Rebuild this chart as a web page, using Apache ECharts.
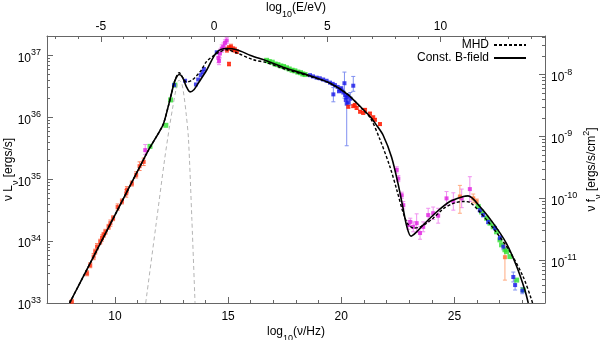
<!DOCTYPE html>
<html>
<head>
<meta charset="utf-8">
<script src="https://cdn.jsdelivr.net/npm/echarts@6/dist/echarts.min.js"></script>
<style>
html, body { margin: 0; padding: 0; background: #fff; }
#chart { width: 600px; height: 340px; }
</style>
</head>
<body>
<div id="chart"></div>
<script>
// all values are log10: x = log10(nu/Hz), y = log10(nu L_nu / erg s^-1)
const constBField = [
  [8.0,33.0],[9.0,33.71],[10.0,34.42],[11.0,35.13],[11.5,35.48],[11.92,35.74],[12.14,35.89],
  [12.36,36.18],[12.51,36.40],[12.65,36.59],[12.84,36.69],[12.98,36.65],[13.15,36.50],[13.32,36.41],
  [13.5,36.45],[13.68,36.55],[14.05,36.76],[14.5,37.05],[14.94,37.11],[15.38,37.09],[16.0,37.0],
  [16.72,36.91],[17.5,36.8],[18.62,36.67],[19.5,36.55],[20.25,36.38],[20.96,36.13],[21.3,36.0],
  [21.58,35.86],[21.85,35.71],[22.22,35.36],[22.5,34.94],[22.72,34.55],[22.9,34.23],[23.08,34.08],
  [23.33,34.15],[23.62,34.26],[24.21,34.47],[24.8,34.64],[25.39,34.72],[25.6,34.73],[26.12,34.56],
  [26.71,34.29],[27.30,33.96],[27.75,33.59],[28.11,33.21],[28.26,33.0]
];
const mhdModel = [
  [8.0,33.0],[9.0,33.71],[10.0,34.42],[11.0,35.13],[11.5,35.48],[11.92,35.74],[12.14,35.89],
  [12.36,36.18],[12.51,36.40],[12.65,36.6],[12.84,36.72],[13.0,36.64],[13.17,36.57],[13.4,36.6],
  [13.61,36.67],[13.83,36.77],[14.05,36.9],[14.5,37.03],[14.94,37.09],[15.38,37.04],[16.11,36.93],
  [16.72,36.88],[17.5,36.78],[18.62,36.66],[19.5,36.55],[20.25,36.38],[20.96,36.12],[21.3,35.98],
  [21.71,35.64],[22.15,35.2],[22.45,34.83],[22.74,34.45],[22.95,34.27],[23.2,34.21],[23.5,34.23],
  [24.06,34.37],[24.5,34.52],[24.95,34.61],[25.39,34.64],[25.7,34.62],[26.12,34.47],[26.71,34.21],
  [27.45,33.83],[28.04,33.42],[28.41,33.05],[28.45,33.0]
];
const dustBump = [
  [11.36,33.0],[11.8,34.22],[12.2,35.33],[12.4,35.82],[12.55,36.15],[12.7,36.45],[12.83,36.6],
  [12.95,36.55],[13.05,36.35],[13.15,36.05],[13.25,35.65],[13.4,34.35],[13.54,33.0]
];

// measurements: [x, y, error down, error up] (dex)
const radioRed = [
  [8.10,33.02,0.04,0.04],[8.77,33.48,0.04,0.04],[8.91,33.61,0.04,0.04],[9.06,33.75,0.05,0.05],
  [9.13,33.83,0.04,0.04],[9.21,33.91,0.05,0.05],[9.35,33.99,0.04,0.04],[9.43,34.05,0.05,0.05],
  [9.50,34.10,0.04,0.04],[9.58,34.15,0.04,0.04],[9.72,34.23,0.04,0.04],[9.80,34.29,0.05,0.05],
  [9.92,34.37,0.04,0.04],[10.12,34.55,0.05,0.05],[10.31,34.64,0.04,0.04],[10.50,34.77,0.06,0.06],
  [10.53,34.83,0.05,0.05],[10.75,34.93,0.04,0.04],[10.94,35.07,0.05,0.05],[11.09,35.21,0.07,0.07],
  [11.27,35.28,0.06,0.06]
];
const irMagenta = [[11.34,35.47,0.07,0.09]];
const irGreen = [[11.55,35.53,0,0],[12.25,35.87,0,0],[12.46,36.28,0,0],[12.65,36.52,0,0]];
const optBlue = [
  [12.61,36.52,0,0],[13.10,36.59,0,0],[13.58,36.53,0,0],[13.68,36.61,0,0],[13.79,36.68,0,0],
  [13.88,36.73,0,0],[13.93,36.78,0,0],[14.50,37.05,0,0]
];
const optMagenta = [
  [14.57,36.96,0.08,0.08],[14.60,36.91,0.06,0.06],[14.64,37.03,0.07,0.07],[14.72,37.11,0.06,0.06],
  [14.79,37.14,0.06,0.06],[14.86,37.20,0.05,0.05],[14.94,37.24,0.05,0.05]
];
const uvRed = [
  [14.95,37.09,0.04,0.04],[15.04,37.12,0.04,0.04],[15.13,37.14,0.04,0.04],[15.22,37.10,0.04,0.04],
  [15.30,37.09,0.04,0.04],[15.39,37.06,0.03,0.03],[15.04,36.86,0.03,0.03]
];
const xrayGreen = [
  [16.70,36.92,0,0],[16.82,36.90,0,0],[16.95,36.89,0,0],[17.08,36.86,0,0],[17.20,36.85,0,0],
  [17.33,36.83,0,0],[17.45,36.82,0,0],[17.58,36.80,0,0],[17.70,36.78,0,0],[17.83,36.76,0,0],
  [17.95,36.75,0,0],[18.08,36.73,0,0],[18.20,36.72,0,0],[18.30,36.70,0,0],[18.40,36.69,0,0]
];
const xrayBlue = [
  [18.62,36.68,0,0],[18.75,36.66,0,0],[18.91,36.64,0,0],[19.05,36.63,0,0],[19.20,36.61,0,0],
  [19.35,36.59,0,0],[19.50,36.56,0,0],[19.62,36.54,0,0],[19.72,36.52,0,0],[19.84,36.49,0,0],
  [19.90,36.42,0,0],[19.94,36.45,0,0],[20.00,36.47,0,0],[20.02,36.43,0,0],[20.09,36.40,0,0],
  [20.17,36.36,0,0],[20.20,36.28,0,0],[20.24,36.32,0,0],[20.28,36.35,0,0],[20.31,36.24,0,0],
  [20.14,36.55,0.24,0.18],[20.53,36.51,0.09,0.15],[20.24,36.22,0.68,0.12],[19.65,36.37,0.12,0.11],
  [20.40,36.30,0.10,0.10]
];
const hardRed = [
  [20.31,36.17,0.02,0.02],[20.53,36.18,0.02,0.02],[20.60,36.20,0.02,0.02],[20.68,36.15,0.02,0.02],
  [20.83,36.09,0.02,0.02],[20.97,36.07,0.02,0.02],[21.05,36.12,0.02,0.02],[21.27,36.06,0.02,0.02],
  [21.41,36.00,0.02,0.02],[21.49,35.96,0.02,0.02],[21.71,35.89,0.02,0.02]
];
const mevMagenta = [
  [22.45,35.15,0.05,0.05],[22.52,35.01,0.05,0.05],[22.67,34.74,0.05,0.05],[22.74,34.58,0.06,0.06],
  [22.96,34.26,0.07,0.07],[23.05,34.31,0.06,0.06],[23.18,34.23,0.08,0.08],[23.33,34.29,0.15,0.15],
  [23.48,34.13,0.10,0.10],[23.62,34.23,0.08,0.08],[23.84,34.42,0.11,0.11],[24.06,34.45,0.10,0.10],
  [24.28,34.41,0.12,0.12],[24.65,34.69,0.11,0.11],[24.95,34.64,0.14,0.14],[25.32,34.69,0.15,0.15],
  [25.68,34.84,0.20,0.20]
];
const gammaOrange = [[25.24,34.72,0.27,0.18],[25.83,34.69,0.07,0.07],[25.98,34.64,0.04,0.04],[27.23,33.74,0.37,0.23]];
const gammaGreen = [
  [26.05,34.56,0,0],[26.20,34.47,0,0],[26.42,34.37,0,0],[26.57,34.29,0,0],[26.71,34.23,0,0],
  [26.86,34.15,0,0],[27.01,34.02,0,0],[27.08,33.94,0,0],[27.23,33.86,0,0],[27.30,33.83,0,0],
  [27.45,33.75,0,0],[27.75,33.37,0,0],[28.04,33.21,0,0]
];
const gammaBlue = [
  [26.12,34.50,0.03,0.03],[26.27,34.42,0.03,0.03],[26.49,34.31,0.03,0.03],[26.79,34.21,0.03,0.03],
  [27.01,34.05,0.04,0.04],[27.16,33.91,0.05,0.05],[27.60,33.42,0.08,0.08],[27.68,33.29,0.08,0.08],
  [28.00,33.20,0.05,0.05]
];

// tick labels
const bottomTicks = [10, 15, 20, 25];
const topTicks = [-5, 0, 5, 10];
const leftTicks = [33, 34, 35, 36, 37];
const rightTicks = [-11, -10, -9, -8];

const EV_OFFSET = 14.38;    // log10(nu/Hz) - log10(E/eV)
const FLUX_OFFSET = 44.69;  // log10(4 pi d^2)
const xMin = 7, xMax = 29, yMin = 33, yMax = 37.313;

function range(a, b) { let r = []; for (let i = a; i <= b; i++) r.push(i); return r; }
function logMinor(lo, hi) {
    let r = [];
    for (let n = Math.floor(lo) - 1; n <= Math.ceil(hi); n++) {
        for (let k = 2; k <= 9; k++) {
            let v = n + Math.log10(k);
            if (v > lo && v < hi) r.push(v);
        }
    }
    return r;
}
function pow10(v) { return '{a|10}{sup|' + v + '}'; }

const rich = {
    a: { fontSize: 12, lineHeight: 14, padding: [4, 0, 0, 0], verticalAlign: 'top', color: '#000' },
    sup: { fontSize: 9, lineHeight: 10, verticalAlign: 'top', color: '#000' },
    sub: { fontSize: 9, lineHeight: 10, padding: [12, 0, 0, 0], verticalAlign: 'top', color: '#000' }
};
const font = "'Liberation Sans', Arial, sans-serif";
const frame = { show: true, onZero: false, lineStyle: { color: '#666', width: 1 } };

function mainX(pos, lo, hi, ticks, name, gap, margin) {
    return {
        type: 'value', position: pos, min: lo, max: hi,
        axisLine: frame, splitLine: { show: false },
        axisTick: { inside: true, length: 6, customValues: ticks, lineStyle: { color: '#666' } },
        axisLabel: { customValues: ticks, fontSize: 12, color: '#000', margin: margin, fontFamily: font },
        name: name, nameLocation: 'middle', nameGap: gap, nameMoveOverlap: false,
        nameTextStyle: { rich: rich, fontFamily: font }
    };
}
function minorAxis(pos, lo, hi, ticks) {
    return {
        type: 'value', position: pos, min: lo, max: hi,
        axisLine: { show: false, onZero: false }, splitLine: { show: false }, axisLabel: { show: false },
        axisTick: { inside: true, length: 3, customValues: ticks, lineStyle: { color: '#666' } }
    };
}
function mainY(pos, lo, hi, ticks, name, gap) {
    return {
        type: 'value', position: pos, min: lo, max: hi,
        axisLine: frame, splitLine: { show: false },
        axisTick: { inside: true, length: 6, customValues: ticks, lineStyle: { color: '#666' } },
        axisLabel: { customValues: ticks, formatter: pow10, rich: rich, margin: 6, fontFamily: font },
        name: name, nameLocation: 'middle', nameGap: gap, nameRotate: 90, nameMoveOverlap: false,
        nameTextStyle: { rich: rich, fontFamily: font }
    };
}

function points(name, data, color, size) {
    return {
        name: name, type: 'scatter', xAxisIndex: 0, yAxisIndex: 0,
        data: data.map(p => [p[0], p[1]]),
        symbol: 'rect', symbolSize: size || 4,
        itemStyle: { color: color }, z: 4, silent: true
    };
}
function errorBars(data, color) {
    return {
        type: 'custom', xAxisIndex: 0, yAxisIndex: 0, clip: true, silent: true, z: 3,
        data: data.filter(p => p[2] || p[3]).map(p => [p[0], p[1] - p[2], p[1] + p[3]]),
        renderItem: function (params, api) {
            let lo = api.coord([api.value(0), api.value(1)]);
            let hi = api.coord([api.value(0), api.value(2)]);
            let st = { stroke: color, lineWidth: 1 };
            return {
                type: 'group', children: [
                    { type: 'line', shape: { x1: lo[0], y1: lo[1], x2: hi[0], y2: hi[1] }, style: st },
                    { type: 'line', shape: { x1: lo[0] - 2, y1: lo[1], x2: lo[0] + 2, y2: lo[1] }, style: st },
                    { type: 'line', shape: { x1: hi[0] - 2, y1: hi[1], x2: hi[0] + 2, y2: hi[1] }, style: st }
                ]
            };
        }
    };
}
function curve(name, data, color, width, dash) {
    return {
        name: name, type: 'line', xAxisIndex: 0, yAxisIndex: 0, data: data,
        showSymbol: false, symbol: 'none', smooth: 0.3, silent: true, z: 5,
        lineStyle: { color: color, width: width, type: dash || 'solid' },
        itemStyle: { color: color }
    };
}

const sets = [
    [radioRed, '#ff3010', '#ff8060'],
    [irMagenta, '#e020e0', '#f090f0'],
    [irGreen, '#30e030', '#90f090'],
    [optBlue, '#1818e8', '#8090f0'],
    [optMagenta, '#e020e0', '#f090f0'],
    [uvRed, '#ff1a00', '#ff7060'],
    [xrayGreen, '#30e030', '#90f090'],
    [xrayBlue, '#1818e8', '#8090f0'],
    [hardRed, '#ff1a00', '#ff7060'],
    [mevMagenta, '#e020e0', '#f090f0'],
    [gammaOrange, '#ff7030', '#ffaa80'],
    [gammaGreen, '#30e030', '#90f090'],
    [gammaBlue, '#1818e8', '#8090f0']
];

let series = [curve('dust', dustBump, '#b4b4b4', 1, [4, 3])];
sets.forEach(function (s, i) {
    series.push(errorBars(s[0], s[2]));
    series.push(points('pts' + i, s[0], s[1], s[1] === '#30e030' ? 5 : 4));
});
series.push(curve('MHD', mhdModel, '#000', 1.4, [3, 2]));
series.push(curve('Const. B-field', constBField, '#000', 1.6));

let chart = echarts.init(document.getElementById('chart'), null, { renderer: 'canvas' });
let option = {
    animation: false,
    backgroundColor: '#fff',
    textStyle: { fontFamily: font },
    grid: { left: 47, right: 55, top: 36, bottom: 37, outerBoundsMode: 'none', containLabel: false },
    legend: {
        data: ['MHD', 'Const. B-field'], orient: 'vertical', align: 'right',
        right: 68, top: 34, itemWidth: 32, itemHeight: 14, itemGap: 1,
        itemStyle: { opacity: 0, borderWidth: 0 },
        textStyle: { fontSize: 12, color: '#000', fontFamily: font }, selectedMode: false
    },
    xAxis: [
        mainX('bottom', xMin, xMax, bottomTicks, '{a|log}{sub|10}{a|(ν/Hz)}', 19, 8),
        minorAxis('bottom', xMin, xMax, range(8, 28)),
        mainX('top', xMin - EV_OFFSET, xMax - EV_OFFSET, topTicks, '{a|log}{sub|10}{a|(E/eV)}', 24, 3),
        minorAxis('top', xMin - EV_OFFSET, xMax - EV_OFFSET, range(-7, 14))
    ],
    yAxis: [
        mainY('left', yMin, yMax, leftTicks, '{a|ν L}{sub|ν}{a| [ergs/s]}', 34),
        minorAxis('left', yMin, yMax, logMinor(yMin, yMax)),
        mainY('right', yMin - FLUX_OFFSET, yMax - FLUX_OFFSET, rightTicks, '{a|ν f}{sub|ν}{a| [ergs/s/cm}{sup|2}{a|]}', 37),
        minorAxis('right', yMin - FLUX_OFFSET, yMax - FLUX_OFFSET, logMinor(yMin - FLUX_OFFSET, yMax - FLUX_OFFSET))
    ],
    series: series
};
chart.setOption(option);
</script>
</body>
</html>
